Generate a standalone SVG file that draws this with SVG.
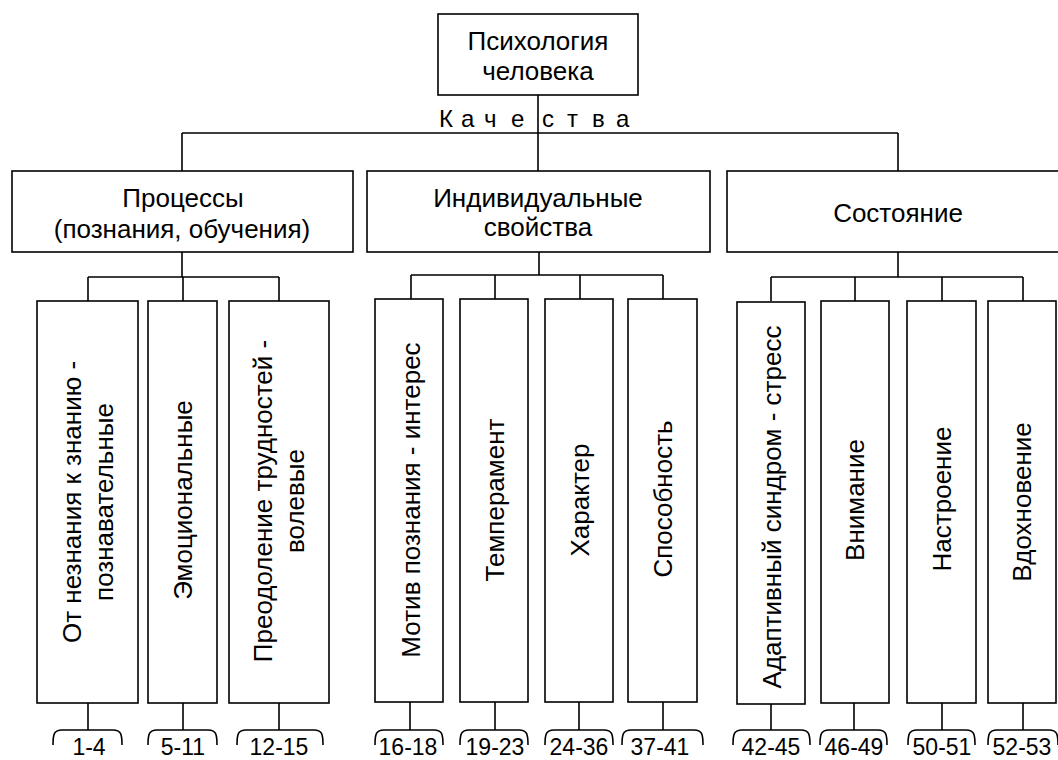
<svg xmlns="http://www.w3.org/2000/svg" width="1058" height="760" viewBox="0 0 1058 760">
<style>
.b{fill:#fff;stroke:#000;stroke-width:1.6}
.c{fill:none;stroke:#000;stroke-width:1.6}
text{font-family:"Liberation Sans",Arial,sans-serif;fill:#000}
.t{font-size:26px;text-anchor:middle}
.n{font-size:23px;text-anchor:middle}
</style>
<rect width="1058" height="760" fill="#fff"/>
<g id="connectors">
<path class="c" d="M538 95V171M182 133H898M182 133V171M898 133V171"/>
<path class="c" d="M182 252V277M88 277H279M88 277V301M183 277V301M279 277V301"/>
<path class="c" d="M539 252V275M411 275H663M411 275V299M495 275V299M580 275V299M663 275V299"/>
<path class="c" d="M898 252V277M771 277H1023M771 277V301M855 277V301M942 277V301M1023 277V301"/>
<path class="c" d="M88 703V730M183 703V730M279 703V730M410 702V730M495 702V730M579 702V730M663 702V730M771 704V730M854 703V730M942 703V730M1023 703V730"/>
<path class="c" d="M53 745C53 734 54 730 62 730H113C121 730 122 734 122 745M148 745C148 734 149 730 157 730H208C216 730 217 734 217 745M237 745C237 734 238 730 246 730H314C322 730 323 734 323 745M375 745C375 734 376 730 384 730H434C442 730 443 734 443 745M460 745C460 734 461 730 469 730H519C527 730 528 734 528 745M545 745C545 734 546 730 554 730H604C612 730 613 734 613 745M622 745C622 734 623 730 631 730H694C702 730 703 734 703 745M733 745C733 734 734 730 742 730H801C809 730 810 734 810 745M820 745C820 734 821 730 829 730H878C886 730 887 734 887 745M908 745C908 734 909 730 917 730H966C974 730 975 734 975 745M988 745C988 734 989 730 997 730H1049C1057 730 1058 734 1058 745"/>
</g>
<text font-size="24" x="439 461 484 511 542 567 592 616" y="127">Качества</text>
<g id="root"><rect class="b" x="438" y="14" width="200" height="81"/><text class="t" x="538" y="50">Психология</text><text class="t" x="538" y="80">человека</text></g>
<g id="processes"><rect class="b" x="12" y="171" width="341" height="81"/><text class="t" x="183" y="207">Процессы</text><text class="t" x="182" y="238">(познания, обучения)</text></g>
<g id="individual"><rect class="b" x="367" y="171" width="343" height="81"/><text class="t" x="538" y="207">Индивидуальные</text><text class="t" x="538" y="236">свойства</text></g>
<g id="state"><rect class="b" x="727" y="171" width="345" height="81"/><text class="t" x="898" y="222">Состояние</text></g>
<g id="cognitive"><rect class="b" x="37" y="301" width="101" height="402"/><g transform="translate(81 502) rotate(-90)"><text class="t" x="0" y="0">От незнания к знанию -</text><text class="t" x="0" y="32">познавательные</text></g></g>
<g id="emotional"><rect class="b" x="148" y="301" width="69" height="402"/><text class="t" transform="translate(192 500) rotate(-90)">Эмоциональные</text></g>
<g id="volitional"><rect class="b" x="229" y="301" width="100" height="402"/><g transform="translate(272 501) rotate(-90)"><text class="t" x="0" y="0">Преодоление трудностей -</text><text class="t" x="0" y="32">волевые</text></g></g>
<g id="motive"><rect class="b" x="375" y="299" width="68" height="403"/><text class="t" transform="translate(420 500) rotate(-90)">Мотив познания - интерес</text></g>
<g id="temperament"><rect class="b" x="460" y="299" width="68" height="403"/><text class="t" transform="translate(504 500) rotate(-90)">Темперамент</text></g>
<g id="character"><rect class="b" x="545" y="299" width="68" height="403"/><text class="t" transform="translate(589 500) rotate(-90)">Характер</text></g>
<g id="ability"><rect class="b" x="628" y="299" width="69" height="403"/><text class="t" transform="translate(672 499) rotate(-90)">Способность</text></g>
<g id="stress"><rect class="b" x="737" y="302" width="68" height="402"/><text class="t" transform="translate(781 507) rotate(-90)">Адаптивный синдром - стресс</text></g>
<g id="attention"><rect class="b" x="821" y="301" width="68" height="402"/><text class="t" transform="translate(864 500) rotate(-90)">Внимание</text></g>
<g id="mood"><rect class="b" x="907" y="301" width="69" height="402"/><text class="t" transform="translate(951 499) rotate(-90)">Настроение</text></g>
<g id="inspiration"><rect class="b" x="988" y="301" width="68" height="402"/><text class="t" transform="translate(1031 502) rotate(-90)">Вдохновение</text></g>
<g id="labels">
<text class="n" x="89" y="755">1-4</text>
<text class="n" x="183" y="755">5-11</text>
<text class="n" x="279" y="755">12-15</text>
<text class="n" x="408" y="755">16-18</text>
<text class="n" x="495" y="755">19-23</text>
<text class="n" x="579" y="755">24-36</text>
<text class="n" x="660" y="755">37-41</text>
<text class="n" x="771" y="755">42-45</text>
<text class="n" x="854" y="755">46-49</text>
<text class="n" x="942" y="755">50-51</text>
<text class="n" x="1022" y="755">52-53</text>
</g>
</svg>
